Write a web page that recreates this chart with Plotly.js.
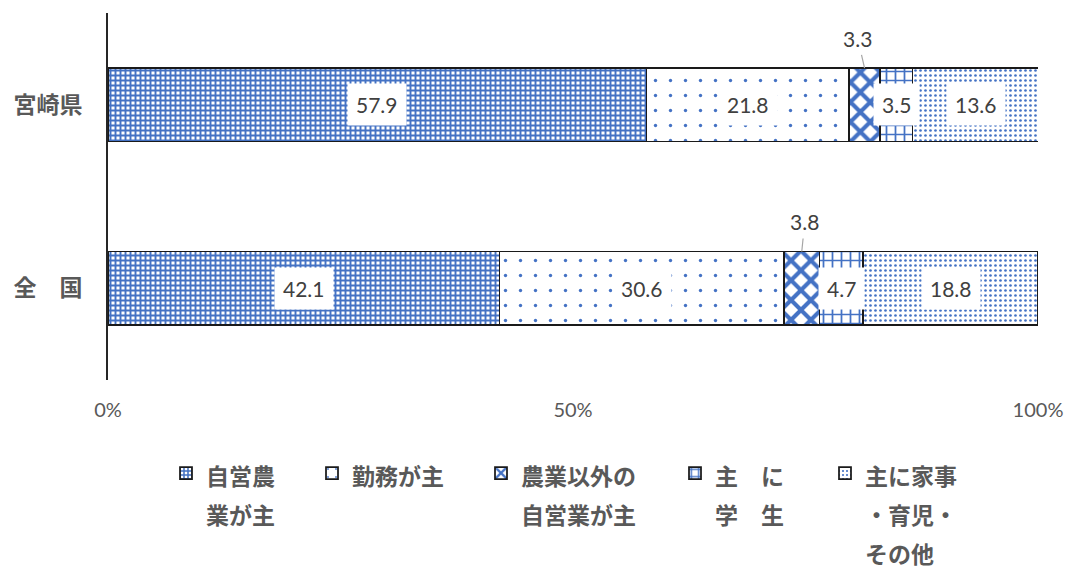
<!DOCTYPE html>
<html><head><meta charset="utf-8">
<script src="https://cdn.plot.ly/plotly-3.0.1.min.js"></script>
<style>html,body{margin:0;padding:0;background:#fff}#chart{width:1068px;height:569px}</style>
</head><body><div id="chart"></div>
<script>
// ---- data ----
const categories = ['宮崎県', '全　国'];
const seriesNames = ['自営農業が主', '勤務が主', '農業以外の自営業が主', '主に学生', '主に家事・育児・その他'];
const legendLines = [['自営農', '業が主'], ['勤務が主'], ['農業以外の', '自営業が主'], ['主　に', '学　生'], ['主に家事', '・育児・', 'その他']];
const miyazaki = [57.9, 21.8, 3.3, 3.5, 13.6];
const zenkoku = [42.1, 30.6, 3.8, 4.7, 18.8];
const xTickVals = [0, 50, 100];
const xTickText = ['0%', '50%', '100%'];

// ---- style ----
const BLUE = '#4472C4';
const BAR_W = 0.4;
const patterns = [
  {shape: '+', size: 5, solidity: 0.62},
  {shape: '.', size: 15, solidity: 0.04},
  {shape: 'x', size: 14, solidity: 0.5},
  {shape: '+', size: 9, solidity: 0.35},
  {shape: '.', size: 5, solidity: 0.22}
];
const legendTextPx = [206, 352, 521, 715, 865];
const LEGEND_TOP_PX = 447;
const PLOT_L = 108, PLOT_W = 930, PLOT_T = 13, PLOT_H = 367;
const calloutSeries = 2;
const calloutOffsets = [[-7, -30], [3, -30]];

const rows = [miyazaki, zenkoku];
const yOrder = categories.slice().reverse();

const traces = seriesNames.map((nm, i) => ({
  type: 'bar',
  orientation: 'h',
  name: legendLines[i].map(l => '<span style="font-size:23px">' + l + '</span>').join('<br>'),
  y: categories,
  x: rows.map(r => r[i]),
  width: BAR_W,
  legend: i === 0 ? 'legend' : 'legend' + (i + 1),
  marker: {
    color: '#ffffff',
    line: {color: '#1a1a1a', width: 1.75},
    pattern: Object.assign({fgcolor: BLUE, bgcolor: '#ffffff', fgopacity: 1, fillmode: 'overlay'}, patterns[i])
  },
  hoverinfo: 'skip'
}));

const labelFont = {family: 'Lato, Carlito, sans-serif', size: 21, color: '#404040'};
const annotations = [];
rows.forEach((vals, r) => {
  let cum = 0;
  const yIdx = yOrder.indexOf(categories[r]);
  vals.forEach((v, i) => {
    const mid = cum + v / 2;
    cum += v;
    if (i === calloutSeries) {
      annotations.push({
        x: mid, y: yIdx + BAR_W / 2, xref: 'x', yref: 'y',
        text: v.toFixed(1), showarrow: true, arrowhead: 0, arrowwidth: 1.2,
        arrowcolor: '#a6a6a6', ax: calloutOffsets[r][0], ay: calloutOffsets[r][1],
        startstandoff: 3, font: labelFont
      });
    } else {
      annotations.push({
        x: mid, y: yIdx, xref: 'x', yref: 'y', text: v.toFixed(1),
        showarrow: false, bgcolor: '#ffffff', borderpad: 8, font: labelFont
      });
    }
  });
});

const legFont = {family: 'Noto Sans CJK JP', size: 30, color: '#595959', weight: 'bold'};
const layout = {
  width: 1068, height: 569,
  margin: {l: PLOT_L, r: 1068 - PLOT_L - PLOT_W, t: PLOT_T, b: 569 - PLOT_T - PLOT_H, autoexpand: false},
  paper_bgcolor: '#ffffff', plot_bgcolor: '#ffffff',
  barmode: 'stack',
  hovermode: false,
  showlegend: true,
  xaxis: {
    range: [0, 100], tickvals: xTickVals, ticktext: xTickText,
    showgrid: false, zeroline: false, showline: false, ticks: '',
    ticklabelstandoff: 16,
    tickfont: {family: 'Lato, Carlito, sans-serif', size: 20, color: '#595959'},
    fixedrange: true
  },
  yaxis: {
    type: 'category', categoryorder: 'array', categoryarray: yOrder,
    range: [-0.5, 1.5],
    showgrid: false, zeroline: false, showline: true, linecolor: '#262626', linewidth: 2,
    ticks: '', ticklabelstandoff: 19,
    tickfont: {family: 'Noto Sans CJK JP', size: 23, color: '#595959', weight: 'bold'},
    fixedrange: true
  },
  annotations: annotations
};
legendTextPx.forEach((px, i) => {
  const key = i === 0 ? 'legend' : 'legend' + (i + 1);
  layout[key] = {
    x: (px - 40 - PLOT_L) / PLOT_W, xref: 'paper', xanchor: 'left',
    y: (PLOT_T + PLOT_H - LEGEND_TOP_PX) / PLOT_H, yref: 'paper', yanchor: 'top',
    font: legFont, valign: 'top', bgcolor: 'rgba(0,0,0,0)', borderwidth: 0,
    itemclick: false, itemdoubleclick: false
  };
});

Plotly.newPlot('chart', traces, layout, {staticPlot: true, displayModeBar: false});
</script>
</body></html>
